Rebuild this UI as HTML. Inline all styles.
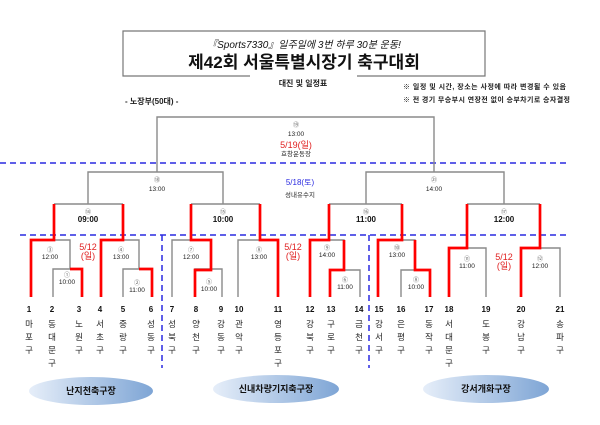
<!DOCTYPE html>
<html><head><meta charset="utf-8">
<style>
body{margin:0;background:#fff;}
svg{display:block;font-family:"Liberation Sans","Noto Sans CJK KR",sans-serif;}
.g{stroke:#8a8a8a;stroke-width:1.4;fill:none;}
.r{stroke:#ff0000;stroke-width:2.7;fill:none;}
.b{stroke:#2a2ae0;stroke-width:1.5;stroke-dasharray:6,4;fill:none;}
.t{font-size:6.5px;fill:#222;text-anchor:middle;}
.c{font-size:6px;fill:#666;text-anchor:middle;}
.tb{font-size:8px;fill:#111;text-anchor:middle;font-weight:bold;}
.red{font-size:9px;fill:#e02020;text-anchor:middle;}
.n{font-size:8px;fill:#111;text-anchor:middle;font-weight:bold;}
.k{font-size:8.5px;fill:#222;text-anchor:middle;}
</style></head><body>
<svg width="600" height="425" viewBox="0 0 600 425">
<defs><linearGradient id="eg" x1="0" x2="1"><stop offset="0" stop-color="#e6eef9"/><stop offset="1" stop-color="#7ea5d5"/></linearGradient></defs>
<polyline points="250,76 123,76 123,31 485,31 485,76 357,76" fill="none" stroke="#777" stroke-width="1.2"/>
<text x="304" y="48" font-size="10" font-style="italic" text-anchor="middle" fill="#111">『Sports7330』일주일에 3번 하루 30분 운동!</text>
<text x="304" y="68" font-size="17" font-weight="bold" text-anchor="middle" fill="#111">제42회 서울특별시장기 축구대회</text>
<text x="303" y="86" font-size="8" font-weight="bold" text-anchor="middle" fill="#222">대진 및 일정표</text>
<text x="403" y="89" font-size="7" font-weight="bold" fill="#222" textLength="163">※ 일정 및 시간, 장소는 사정에 따라 변경될 수 있음</text>
<text x="403" y="102" font-size="7" font-weight="bold" fill="#222" textLength="167">※ 전 경기 무승부시 연장전 없이 승부차기로 승자결정</text>
<text x="125" y="104" font-size="8" font-weight="bold" fill="#222">- 노장부(50대) -</text>
<line class="b" x1="0" y1="163" x2="568" y2="163"/>
<line class="b" x1="20" y1="235" x2="568" y2="235"/>
<line class="b" x1="162" y1="235" x2="162" y2="368"/>
<line class="b" x1="369" y1="235" x2="369" y2="368"/>
<polyline class="g" points="157,172 157,117 434,117 434,172"/>
<text class="c" x="296" y="127">⑲</text><text class="t" x="296" y="136">13:00</text>
<text class="red" x="296" y="148" font-size="7.5">5/19(일)</text><text class="t" x="296" y="156">효창운동장</text>
<polyline class="g" points="88,204 88,172 223,172 223,204"/>
<text class="c" x="157" y="182">⑱</text><text class="t" x="157" y="191">13:00</text>
<polyline class="g" points="366,204 366,172 504,172 504,204"/>
<text class="c" x="434" y="182">㉑</text><text class="t" x="434" y="191">14:00</text>
<text x="300" y="185" font-size="8" fill="#2a2ae0" text-anchor="middle">5/18(토)</text>
<text class="t" x="300" y="197">성내유수지</text>
<line class="g" x1="54" y1="204" x2="123" y2="204"/>
<line class="g" x1="191" y1="204" x2="260" y2="204"/>
<line class="g" x1="329" y1="204" x2="402" y2="204"/>
<line class="g" x1="467" y1="204" x2="540" y2="204"/>
<text class="c" x="88" y="214">⑭</text><text class="tb" x="88" y="222">09:00</text>
<text class="c" x="223" y="214">⑮</text><text class="tb" x="223" y="222">10:00</text>
<text class="c" x="366" y="214">⑯</text><text class="tb" x="366" y="222">11:00</text>
<text class="c" x="504" y="214">⑰</text><text class="tb" x="504" y="222">12:00</text>
<polyline class="g" points="31,297 31,240 70,240 70,269"/>
<polyline class="g" points="53,297 53,269 82,269 82,297"/>
<polyline class="g" points="101,297 101,240 139,240 139,269"/>
<polyline class="g" points="123,297 123,269 152,269 152,297"/>
<polyline class="g" points="172,297 172,240 211,240 211,269"/>
<polyline class="g" points="195,297 195,269 222,269 222,297"/>
<polyline class="g" points="238,297 238,240 278,240 278,297"/>
<polyline class="g" points="310,297 310,240 344,240 344,270"/>
<polyline class="g" points="330,297 330,270 360,270 360,297"/>
<polyline class="g" points="378,297 378,240 415,240 415,270"/>
<polyline class="g" points="401,297 401,270 430,270 430,297"/>
<polyline class="g" points="449,297 449,248 486,248 486,297"/>
<polyline class="g" points="521,297 521,248 560,248 560,297"/>
<polyline class="r" points="54,204 54,240 31,240 31,297"/>
<polyline class="r" points="123,204 123,240 101,240 101,297"/>
<polyline class="r" points="70,269 82,269 82,297"/>
<polyline class="r" points="139,269 152,269 152,297"/>
<polyline class="r" points="191,204 191,240 211,240 211,270 195,270 195,297"/>
<polyline class="r" points="260,204 260,240 278,240 278,297"/>
<polyline class="r" points="329,204 329,240 310,240 310,297"/>
<polyline class="r" points="344,240 344,270 330,270 330,297"/>
<polyline class="r" points="402,204 402,240 378,240 378,297"/>
<polyline class="r" points="415,240 415,270 430,270 430,297"/>
<polyline class="r" points="467,204 467,248 449,248 449,297"/>
<polyline class="r" points="540,204 540,248 521,248 521,297"/>
<text class="c" x="50" y="252">③</text><text class="t" x="50" y="259">12:00</text>
<text class="c" x="67" y="277">①</text><text class="t" x="67" y="284">10:00</text>
<text class="c" x="121" y="252">④</text><text class="t" x="121" y="259">13:00</text>
<text class="c" x="137" y="285">②</text><text class="t" x="137" y="292">11:00</text>
<text class="c" x="191" y="252">⑦</text><text class="t" x="191" y="259">12:00</text>
<text class="c" x="209" y="284">⑤</text><text class="t" x="209" y="291">10:00</text>
<text class="c" x="259" y="252">⑧</text><text class="t" x="259" y="259">13:00</text>
<text class="c" x="327" y="250">⑨</text><text class="t" x="327" y="257">14:00</text>
<text class="c" x="345" y="282">⑥</text><text class="t" x="345" y="289">11:00</text>
<text class="c" x="397" y="250">⑩</text><text class="t" x="397" y="257">13:00</text>
<text class="c" x="416" y="282">⑧</text><text class="t" x="416" y="289">10:00</text>
<text class="c" x="467" y="261">⑪</text><text class="t" x="467" y="268">11:00</text>
<text class="c" x="540" y="261">⑫</text><text class="t" x="540" y="268">12:00</text>
<text class="red" x="88" y="250">5/12</text><text class="red" x="88" y="259">(일)</text>
<text class="red" x="293" y="250">5/12</text><text class="red" x="293" y="259">(일)</text>
<text class="red" x="504" y="260">5/12</text><text class="red" x="504" y="269">(일)</text>
<g class="n">
<text x="29" y="312">1</text><text x="52" y="312">2</text><text x="79" y="312">3</text><text x="100" y="312">4</text><text x="123" y="312">5</text><text x="151" y="312">6</text><text x="172" y="312">7</text><text x="196" y="312">8</text><text x="221" y="312">9</text><text x="239" y="312">10</text><text x="278" y="312">11</text><text x="310" y="312">12</text><text x="331" y="312">13</text><text x="359" y="312">14</text><text x="379" y="312">15</text><text x="401" y="312">16</text><text x="429" y="312">17</text><text x="449" y="312">18</text><text x="486" y="312">19</text><text x="521" y="312">20</text><text x="560" y="312">21</text>
</g>
<g class="k">
<text x="29" y="327">마</text><text x="29" y="340">포</text><text x="29" y="353">구</text>
<text x="52" y="327">동</text><text x="52" y="340">대</text><text x="52" y="353">문</text><text x="52" y="366">구</text>
<text x="79" y="327">노</text><text x="79" y="340">원</text><text x="79" y="353">구</text>
<text x="100" y="327">서</text><text x="100" y="340">초</text><text x="100" y="353">구</text>
<text x="123" y="327">중</text><text x="123" y="340">랑</text><text x="123" y="353">구</text>
<text x="151" y="327">성</text><text x="151" y="340">동</text><text x="151" y="353">구</text>
<text x="172" y="327">성</text><text x="172" y="340">북</text><text x="172" y="353">구</text>
<text x="196" y="327">양</text><text x="196" y="340">천</text><text x="196" y="353">구</text>
<text x="221" y="327">강</text><text x="221" y="340">동</text><text x="221" y="353">구</text>
<text x="239" y="327">관</text><text x="239" y="340">악</text><text x="239" y="353">구</text>
<text x="278" y="327">영</text><text x="278" y="340">등</text><text x="278" y="353">포</text><text x="278" y="366">구</text>
<text x="310" y="327">강</text><text x="310" y="340">북</text><text x="310" y="353">구</text>
<text x="331" y="327">구</text><text x="331" y="340">로</text><text x="331" y="353">구</text>
<text x="359" y="327">금</text><text x="359" y="340">천</text><text x="359" y="353">구</text>
<text x="379" y="327">강</text><text x="379" y="340">서</text><text x="379" y="353">구</text>
<text x="401" y="327">은</text><text x="401" y="340">평</text><text x="401" y="353">구</text>
<text x="429" y="327">동</text><text x="429" y="340">작</text><text x="429" y="353">구</text>
<text x="449" y="327">서</text><text x="449" y="340">대</text><text x="449" y="353">문</text><text x="449" y="366">구</text>
<text x="486" y="327">도</text><text x="486" y="340">봉</text><text x="486" y="353">구</text>
<text x="521" y="327">강</text><text x="521" y="340">남</text><text x="521" y="353">구</text>
<text x="560" y="327">송</text><text x="560" y="340">파</text><text x="560" y="353">구</text>
</g>
<ellipse cx="91" cy="391" rx="62" ry="14" fill="url(#eg)"/>
<ellipse cx="276" cy="389" rx="63" ry="14" fill="url(#eg)"/>
<ellipse cx="486" cy="389" rx="63" ry="14" fill="url(#eg)"/>
<text x="91" y="394" font-size="9" font-weight="bold" text-anchor="middle" fill="#111">난지천축구장</text>
<text x="276" y="392" font-size="9" font-weight="bold" text-anchor="middle" fill="#111">신내차량기지축구장</text>
<text x="486" y="392" font-size="9" font-weight="bold" text-anchor="middle" fill="#111">강서개화구장</text>
</svg>
</body></html>
